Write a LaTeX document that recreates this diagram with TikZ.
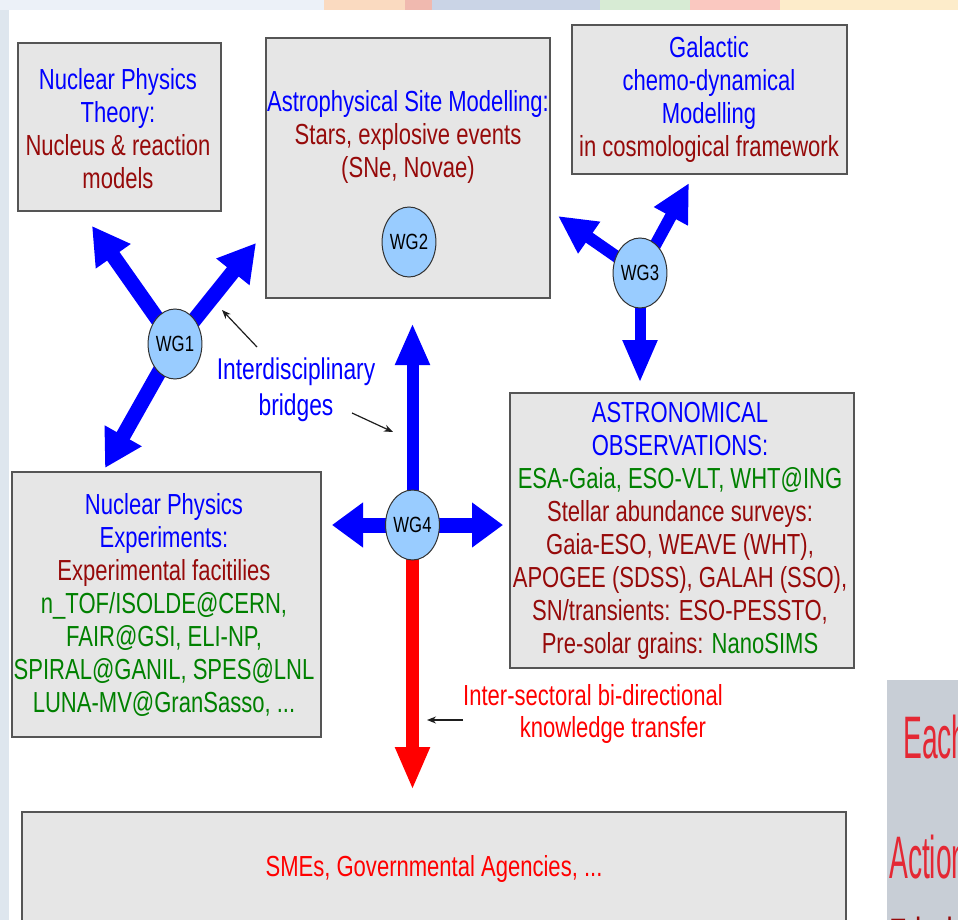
\documentclass[tikz,border=0pt]{standalone}
\usepackage{fontspec}
\setmainfont{Liberation Sans}[FakeStretch=0.76]
\newfontfamily\narrowfont{Liberation Sans}[FakeStretch=0.47]
\usetikzlibrary{arrows.meta,shapes.geometric,backgrounds}
\definecolor{tblue}{RGB}{0,0,255}
\definecolor{tdred}{RGB}{150,10,10}
\definecolor{tgreen}{RGB}{0,128,0}
\definecolor{tred}{RGB}{255,0,0}
\definecolor{boxfill}{RGB}{230,230,230}
\definecolor{boxline}{RGB}{85,85,85}
\definecolor{wgfill}{RGB}{153,204,255}
\definecolor{wgline}{RGB}{50,50,50}
\definecolor{panelgray}{RGB}{200,206,214}
\definecolor{panelred}{RGB}{228,40,52}
\definecolor{stripgray}{RGB}{222,230,238}
\definecolor{ptrcol}{RGB}{30,30,30}
\definecolor{bandA}{RGB}{236,241,248}
\definecolor{bandB}{RGB}{250,218,192}
\definecolor{bandC}{RGB}{240,185,175}
\definecolor{bandD}{RGB}{202,212,230}
\definecolor{bandE}{RGB}{215,235,212}
\definecolor{bandF}{RGB}{250,200,192}
\definecolor{bandG}{RGB}{253,236,202}
\tikzset{
 box/.style={draw=boxline, fill=boxfill, line width=1.6pt, inner sep=0pt, outer sep=0pt},
 wg/.style={ellipse, draw=wgline, fill=wgfill, line width=1pt, minimum width=52pt, minimum height=70pt, inner sep=0pt, font=\fontsize{22}{24}\selectfont},
 txt/.style={align=center, font=\fontsize{29}{33}\selectfont, inner sep=0pt},
 fat/.style n args={3}{draw=tblue, line width=#1, -{Triangle[width=#2,length=#3]}},
 pointer/.style={draw=ptrcol, line width=1.2pt, -{Stealth[length=9pt,width=7pt]}},
 panel/.style={anchor=base west, inner sep=0pt, font={\narrowfont\fontsize{60}{66}\selectfont}},
}
\begin{document}
\begin{tikzpicture}[x=1pt,y=-1pt]
\useasboundingbox (0,0) rectangle (958,920);
\clip (0,0) rectangle (958,920);
% right slide panel (partly visible)
\fill[panelgray] (887,680) rectangle (958,920);
\node[panel, text=panelred] (each) at (903,758) {Each};
\node[panel, text=panelred] (action) at (889,878) {Action};
\node[panel, text=tdred] (fried) at (889,960) {Fried};

% boxes
\node[box, minimum width=203pt, minimum height=168pt] (npt) at (119.5,127) {};
\node[box, minimum width=284pt, minimum height=260pt] (ast) at (408,168) {};
\node[box, minimum width=275pt, minimum height=149pt] (gal) at (709.5,99.5) {};
\node[box, minimum width=309pt, minimum height=265pt] (npe) at (166.5,604.5) {};
\node[box, minimum width=344pt, minimum height=275pt] (obs) at (682,530.5) {};
\node[box, minimum width=824pt, minimum height=123pt] (sme) at (434,873.5) {};

% box texts
\node[txt] (nptt) at (118,129) {\textcolor{tblue}{Nuclear Physics}\\\textcolor{tblue}{Theory:}\\\textcolor{tdred}{Nucleus \& reaction}\\\textcolor{tdred}{models}};
\node[txt] (astt) at (408,137) {\textcolor{tblue}{Astrophysical Site Modelling:}\\\textcolor{tdred}{Stars, explosive events}\\\textcolor{tdred}{(SNe, Novae)}};
\node[txt] (galt) at (709,100) {\textcolor{tblue}{Galactic}\\\textcolor{tblue}{chemo-dynamical}\\\textcolor{tblue}{Modelling}\\\textcolor{tdred}{in cosmological framework}};
\node[txt] (npet) at (164,605) {\textcolor{tblue}{Nuclear Physics}\\\textcolor{tblue}{Experiments:}\\\textcolor{tdred}{Experimental facitilies}\\\textcolor{tgreen}{n\_TOF/ISOLDE@CERN,}\\\textcolor{tgreen}{FAIR@GSI, ELI-NP,}\\\textcolor{tgreen}{SPIRAL@GANIL, SPES@LNL}\\\textcolor{tgreen}{LUNA-MV@GranSasso, ...}};
\node[txt] (obst) at (680,531) {\textcolor{tblue}{ASTRONOMICAL}\\\textcolor{tblue}{OBSERVATIONS:}\\\textcolor{tgreen}{ESA-Gaia, ESO-VLT, WHT@ING}\\\textcolor{tdred}{Stellar abundance surveys:}\\\textcolor{tdred}{Gaia-ESO, WEAVE (WHT),}\\\textcolor{tdred}{APOGEE (SDSS), GALAH (SSO),}\\\textcolor{tdred}{SN/transients: ESO-PESSTO,}\\\textcolor{tdred}{Pre-solar grains: }\textcolor{tgreen}{NanoSIMS}};
\node[txt, text=tred] (smet) at (434,869) {SMEs, Governmental Agencies, ...};

% free labels
\node[txt, font=\fontsize{30}{36}\selectfont, text=tblue] (bridges) at (296,390) {Interdisciplinary\\bridges};
\node[txt, text=tred] (ist1) at (593,695) {Inter-sectoral bi-directional};
\node[txt, text=tred] (ist2) at (613,730) {knowledge transfer};

% working groups
\node[wg] (wg1) at (175,344) {WG1};
\node[wg] (wg2) at (409,242) {WG2};
\node[wg] (wg3) at (640,273) {WG3};
\node[wg] (wg4) at (412.5,525) {WG4};

% arrow end points
\coordinate (t1a) at (92,226);
\coordinate (t1b) at (256,243);
\coordinate (t1c) at (105,468);
\coordinate (t3a) at (558,216);
\coordinate (t3b) at (689,183);
\coordinate (t3c) at (640,383);
\coordinate (t4u) at (412.5,323);
\coordinate (t4l) at (332,525);
\coordinate (t4r) at (503,525);
\coordinate (t4d) at (412.5,790);
\coordinate (p1s) at (257,347);
\coordinate (p1e) at (222,310);
\coordinate (p2s) at (352,413);
\coordinate (p2e) at (393,432);
\coordinate (p3s) at (463,720);
\coordinate (p3e) at (427,720);

\begin{pgfonlayer}{background}
% page background
\fill[white] (0,0) rectangle (958,920);
\fill[stripgray] (0,0) rectangle (9,920);
\fill[bandA] (0,0) rectangle (324,10);
\fill[bandB] (324,0) rectangle (405,10);
\fill[bandC] (405,0) rectangle (432,10);
\fill[bandD] (432,0) rectangle (600,10);
\fill[bandE] (600,0) rectangle (690,10);
\fill[bandF] (690,0) rectangle (780,10);
\fill[bandG] (780,0) rectangle (958,10);
% thick arrows
\draw[fat={15pt}{40pt}{37pt}] (wg1.center) -- (t1a);
\draw[fat={15pt}{40pt}{37pt}] (wg1.center) -- (t1b);
\draw[fat={15pt}{40pt}{37pt}] (wg1.center) -- (t1c);
\draw[fat={12pt}{36pt}{38pt}] (wg3.center) -- (t3a);
\draw[fat={12pt}{36pt}{38pt}] (wg3.center) -- (t3b);
\draw[fat={11pt}{32pt}{43pt}] (wg3.center) -- (t3c);
\draw[fat={12pt}{32pt}{42pt}] (wg4.center) -- (t4u);
\draw[fat={15pt}{43pt}{31pt}] (wg4.center) -- (t4l);
\draw[fat={15pt}{43pt}{31pt}] (wg4.center) -- (t4r);
\draw[fat={13pt}{32pt}{43pt}, draw=tred] (wg4.center) -- (t4d);
\end{pgfonlayer}

\draw[pointer] (p1s) -- (p1e);
\draw[pointer] (p2s) -- (p2e);
\draw[pointer] (p3s) -- (p3e);
\end{tikzpicture}
\end{document}
